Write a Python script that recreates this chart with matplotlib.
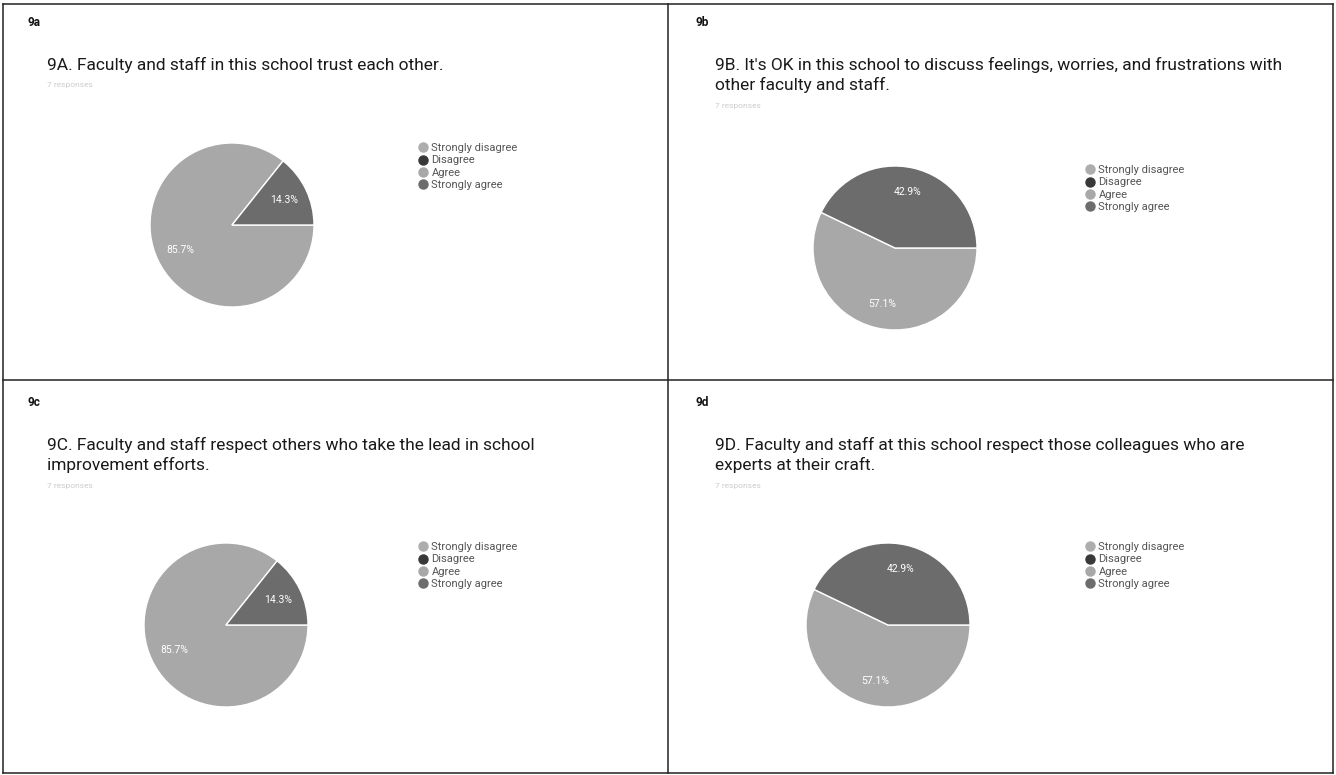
import matplotlib
matplotlib.use("Agg")
import matplotlib.pyplot as plt
from matplotlib.lines import Line2D

# ---- data (7 responses per question) ----
categories = ["Strongly disagree", "Disagree", "Agree", "Strongly agree"]
panel_tags = ["9a", "9b", "9c", "9d"]
titles = [
    "9A. Faculty and staff in this school trust each other.",
    "9B. It's OK in this school to discuss feelings, worries, and frustrations with\nother faculty and staff.",
    "9C. Faculty and staff respect others who take the lead in school\nimprovement efforts.",
    "9D. Faculty and staff at this school respect those colleagues who are\nexperts at their craft.",
]
subtitle = "7 responses"
counts_9a = [0, 0, 6, 1]
counts_9b = [0, 0, 4, 3]
counts_9c = [0, 0, 6, 1]
counts_9d = [0, 0, 4, 3]
all_counts = [counts_9a, counts_9b, counts_9c, counts_9d]

# scanned greys standing in for the usual blue / red / orange / green
colors = ["#adadad", "#383838", "#a8a8a8", "#6c6c6c"]

W, H = 1336, 775
fig = plt.figure(figsize=(W / 100, H / 100), dpi=100)
plt.rcParams['font.family'] = ['Roboto', 'DejaVu Sans']


def fx(x):
    return x / W


def fy(y):
    return 1 - y / H


# ---- panel borders ----
border = dict(color="#222222", linewidth=1.1)
for xs, ys in [((3, 1333), (4, 4)), ((3, 1333), (380, 380)), ((3, 1333), (773, 773)),
               ((3, 3), (4, 773)), ((668, 668), (4, 773)), ((1333, 1333), (4, 773))]:
    fig.add_artist(Line2D([fx(xs[0]), fx(xs[1])], [fy(ys[0]), fy(ys[1])],
                          transform=fig.transFigure, **border))

# panel layout: origin, pie centre, radius, legend anchor (pixels)
origins = [(0, 0), (668, 0), (0, 380), (668, 380)]
pie_centres = [(232, 225), (895, 248), (226, 625), (888, 625)]
radius = 82
legend_pos = [(417, 143), (1084, 165), (417, 542), (1084, 542)]

for i in range(4):
    ox, oy = origins[i]
    fig.text(fx(ox + 27), fy(oy + 22), panel_tags[i], fontsize=8.5,
             fontweight="bold", va="center", ha="left", color="#111111")
    n_lines = titles[i].count("\n") + 1
    fig.text(fx(ox + 47), fy(oy + 57), titles[i], fontsize=12.5,
             va="top", ha="left", color="#1a1a1a", linespacing=1.33)
    fig.text(fx(ox + 47), fy(oy + 85 + 21 * (n_lines - 1)), subtitle, fontsize=6,
             va="center", ha="left", color="#cccccc")

    # pie
    cx, cy = pie_centres[i]
    ax = fig.add_axes([fx(cx - radius), fy(cy + radius), 2 * radius / W, 2 * radius / H])
    vals = [v for v in all_counts[i] if v > 0]
    cols = [c for v, c in zip(all_counts[i], colors) if v > 0]
    wedges, texts, autotexts = ax.pie(
        vals, colors=cols, startangle=0, counterclock=False, radius=1,
        autopct="%1.1f%%", pctdistance=0.7,
        wedgeprops=dict(edgecolor="white", linewidth=1.0),
        textprops=dict(color="white", fontsize=7.5))
    ax.set_xlim(-1, 1)
    ax.set_ylim(-1, 1)
    ax.set_aspect("equal")
    ax.axis("off")

    # legend
    handles = [Line2D([], [], marker="o", linestyle="none", markersize=6.5,
                      markerfacecolor=c, markeredgecolor=c) for c in colors]
    lx, ly = legend_pos[i]
    fig.legend(handles, categories, loc="upper left",
               bbox_to_anchor=(fx(lx), fy(ly)), frameon=False, fontsize=8,
               labelcolor="#555555", handletextpad=0.3, labelspacing=0.22,
               handlelength=1.0, borderpad=0, borderaxespad=0)

fig.savefig("out.png", dpi=100, facecolor="white")
